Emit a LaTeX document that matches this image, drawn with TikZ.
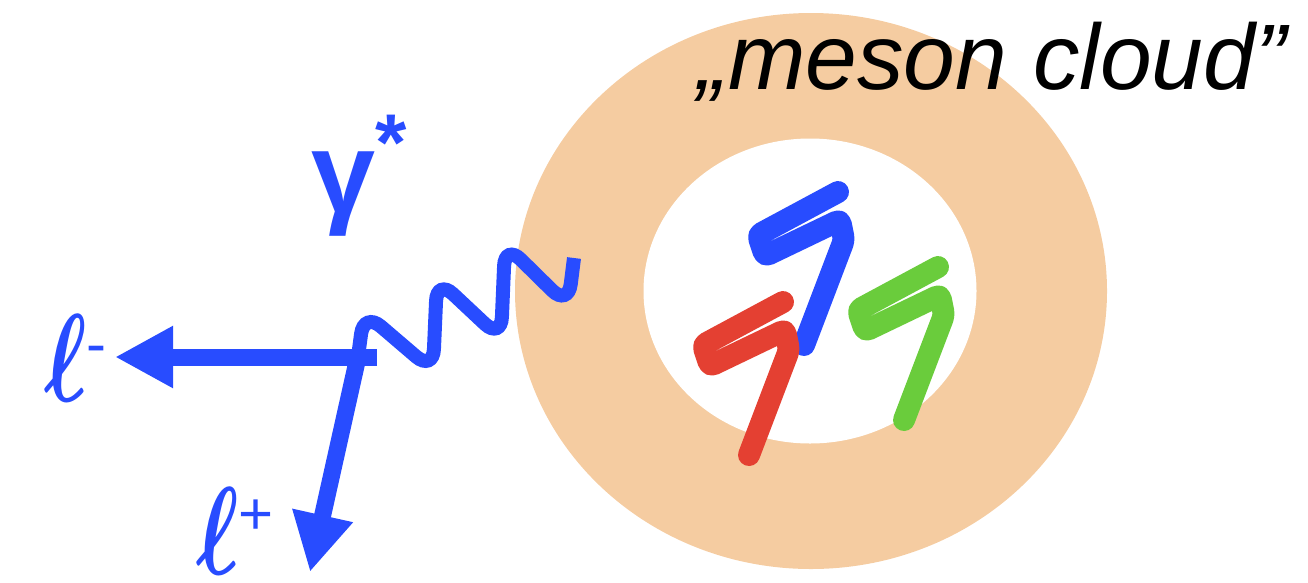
\documentclass[tikz,border=0pt]{standalone}
\usepackage{fix-cm}
\usepackage{amsmath}
\usepackage{graphicx}
\usepackage{fontspec}
\setmainfont{Liberation Sans}
\usetikzlibrary{arrows.meta,shapes.geometric}

\definecolor{cloudcol}{RGB}{245,204,161}
\definecolor{qblue}{RGB}{40,76,255}
\definecolor{qred}{RGB}{228,64,50}
\definecolor{qgreen}{RGB}{106,204,60}

% narrow bold ell with a small sign raised beside it
\newcommand{\lepname}[2]{\fontsize{125}{125}\selectfont
    \scalebox{0.72}[1]{$\boldsymbol{\ell}$}\raisebox{#2}{\fontsize{60}{60}\selectfont #1}}

\begin{document}
\begin{tikzpicture}[x=1pt, y=-1pt,
    lepton/.style={qblue, line width=17pt, -{Triangle[length=58pt,width=58pt]}},
    photon/.style={qblue, line width=14pt, rounded corners=22pt},
    quark/.style={line width=22pt, line cap=round, line join=round, rounded corners=4pt},
    lbl/.style={inner sep=0pt, anchor=base west}]
    \useasboundingbox (0,0) rectangle (1308,582);
    % cloud with the bare core inside
    \node[ellipse, fill=cloudcol, inner sep=0pt, minimum width=592pt, minimum height=556pt] (cloud) at (811,291) {};
    \node[ellipse, fill=white, inner sep=0pt, minimum width=333pt, minimum height=305pt] (core) at (810,291) {};
    \node[lbl] (cloudname) at (697,89) {\fontsize{93}{93}\selectfont\itshape „meson cloud”};

    % virtual photon and the lepton pair
    \coordinate (vtx) at (358,357);
    \coordinate (bar) at (377,357);
    \coordinate (tipm) at (115,357);
    \coordinate (tipp) at (310,572);
    \draw[photon] (vtx) -- (364,312) -- (433,371) -- (437,279) -- (501,339)
        -- (505,244) -- (568,306) -- (574,258);
    \draw[lepton] (bar) -- (tipm);
    \draw[lepton] (vtx) -- (tipp);
    \node[lbl, qblue] (gam) at (311,212) {\fontsize{115}{115}\selectfont\bfseries γ\textsuperscript{*}};
    \node[lbl, qblue] (lm) at (44,401) {\lepname{-}{37pt}};
    \node[lbl, qblue] (lp) at (196,574) {\lepname{+}{40pt}};

    % three quarks
    \foreach \col/\qx/\qy in {qblue/838/192, qred/783/302, qgreen/938/267}{
        \draw[quark, \col] (\qx,\qy) -- ++(-80,43) -- ++(7,21) -- ++(75,-36)
            -- ++(4,20) -- ++(-40,105);
    }
\end{tikzpicture}
\end{document}
